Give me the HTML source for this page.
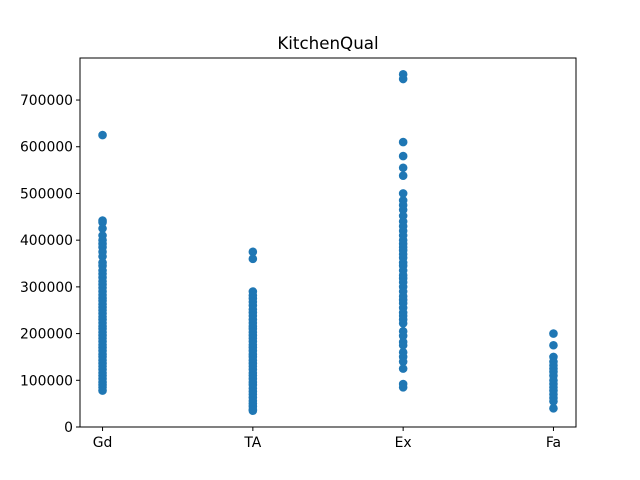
<!DOCTYPE html>
<html><head><meta charset="utf-8"><style>
html,body{margin:0;padding:0;background:#fff;}
svg{display:block;font-family:"DejaVu Sans","Liberation Sans",sans-serif;}
</style></head><body>
<svg id="chart" width="640" height="480" viewBox="0 0 640 480"></svg>
<script>
const categories = ["Gd","TA","Ex","Fa"];
const yTicks = [0,100000,200000,300000,400000,500000,600000,700000];
const gdValues = [625000,442000,438000,425000,410000,400000,392000,385000,375000,365000,352000,345000,335000,328000,320000,312000,305000,298000,290000,283000,276000,270000,263000,256000,250000,243000,236000,230000,223000,216000,210000,203000,196000,190000,183000,176000,170000,163000,156000,150000,143000,136000,130000,123000,116000,110000,103000,96000,90000,85000,78000];
const taValues = [375000,360000,290000,282000,275000,268000,260000,252000,245000,238000,230000,223000,216000,210000,203000,196000,190000,183000,176000,170000,163000,156000,150000,143000,136000,130000,123000,116000,110000,103000,96000,90000,83000,76000,70000,63000,56000,50000,44000,38000,35000];
const exValues = [755000,745000,610000,580000,555000,538000,500000,485000,475000,465000,452000,440000,430000,420000,410000,400000,392000,385000,378000,370000,362000,352000,345000,335000,325000,318000,310000,300000,290000,280000,272000,265000,255000,245000,238000,230000,222000,205000,195000,182000,175000,160000,150000,140000,125000,92000,85000];
const faValues = [200000,175000,150000,140000,132000,125000,118000,110000,100000,92000,85000,78000,70000,62000,55000,40000];

const NS="http://www.w3.org/2000/svg";
const svg=document.getElementById('chart');
const L=80,R=576,T=58,B=427;
const xMin=-0.15,xMax=3.15,yMin=0,yMax=790000;
const xScale=i=>L+(i-xMin)/(xMax-xMin)*(R-L);
const yScale=v=>B-(v-yMin)/(yMax-yMin)*(B-T);
function mk(tag,attrs,parent){const e=document.createElementNS(NS,tag);for(const k in attrs)e.setAttribute(k,attrs[k]);(parent||svg).appendChild(e);return e;}

const pts=mk('g',{});


[gdValues,taValues,exValues,faValues].forEach((arr,ci)=>{
  arr.forEach(v=>{
    const c=mk('circle',{cx:xScale(ci),cy:yScale(v),r:4.3,fill:'#1f77b4'},pts);
    
    
  });
});

const frame=mk('rect',{x:L,y:T,width:R-L,height:B-T,fill:'none',stroke:'#000','stroke-width':1});



categories.forEach((c,i)=>{
  const x=xScale(i);
  mk('line',{x1:x,x2:x,y1:B,y2:B+4,stroke:'#000'});
  const t=mk('text',{x:x,y:B+20,'text-anchor':'middle','font-size':13.9});
  t.textContent=c;
  
  
});
yTicks.forEach(v=>{
  const y=yScale(v);
  mk('line',{x1:L-4,x2:L,y1:y,y2:y,stroke:'#000'});
  const t=mk('text',{x:L-7,y:y+5,'text-anchor':'end','font-size':13.9});
  t.textContent=String(v);
  
  
});
const title=mk('text',{x:(L+R)/2,y:49,'text-anchor':'middle','font-size':16.7});
title.textContent='KitchenQual';


</script>
</body></html>
